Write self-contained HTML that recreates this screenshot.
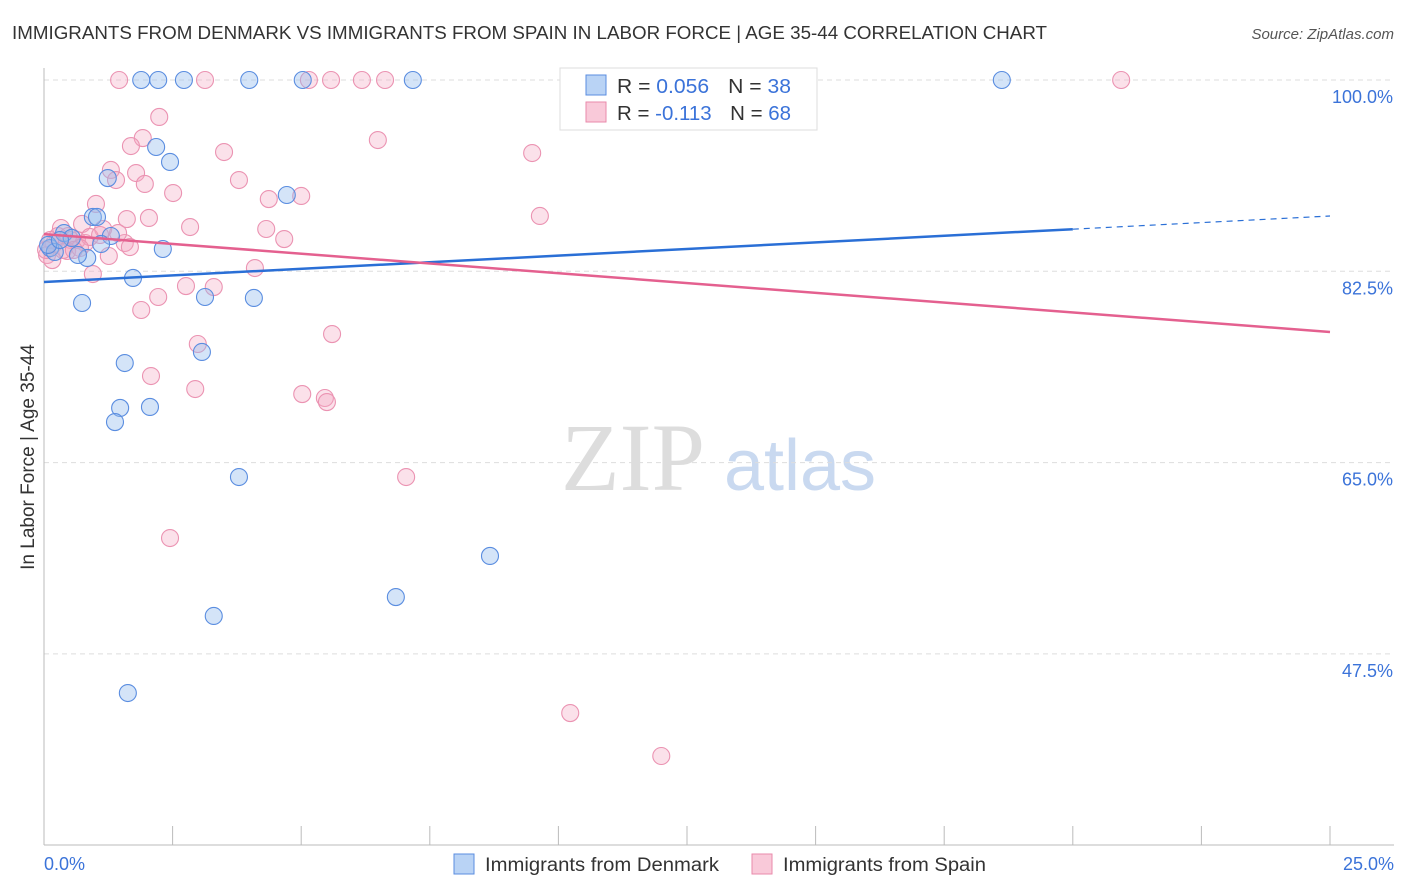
<!DOCTYPE html>
<html><head><meta charset="utf-8"><style>
body{margin:0;background:#fff;font-family:"Liberation Sans",sans-serif;}
svg{display:block}
</style></head><body>
<svg id="chart" width="1406" height="892">
<text x="12" y="39" font-size="18" fill="#333" textLength="1035" lengthAdjust="spacingAndGlyphs">IMMIGRANTS FROM DENMARK VS IMMIGRANTS FROM SPAIN IN LABOR FORCE | AGE 35-44 CORRELATION CHART</text>
<text x="1394" y="39" font-size="15" fill="#555" text-anchor="end" font-style="italic">Source: ZipAtlas.com</text>
<g>
<text x="633" y="490" font-size="96" fill="#ddd" text-anchor="middle" font-family="Liberation Serif,serif">ZIP</text>
<text x="800" y="490" font-size="72" fill="#c9d9f0" text-anchor="middle">atlas</text>
</g>
<g id="grid"></g>
<g id="axes"></g>
<g id="marks"></g>
<g>
<rect x="560" y="68" width="257" height="62" fill="#fff" stroke="#ddd"/>
<rect x="586" y="75" width="20" height="20" fill="#b9d3f5" stroke="#5a8de0"/>
<rect x="586" y="102" width="20" height="20" fill="#f9c9d9" stroke="#e98aab"/>
<text x="617" y="93" font-size="20" fill="#333" textLength="174" lengthAdjust="spacingAndGlyphs">R = <tspan fill="#3b73d9">0.056</tspan><tspan dx="18">N = </tspan><tspan fill="#3b73d9">38</tspan></text>
<text x="617" y="120" font-size="20" fill="#333" textLength="174" lengthAdjust="spacingAndGlyphs">R = <tspan fill="#3b73d9">-0.113</tspan><tspan dx="18">N = </tspan><tspan fill="#3b73d9">68</tspan></text>
</g>
<g>
<rect x="454" y="854" width="20" height="20" fill="#b9d3f5" stroke="#5a8de0"/>
<text x="485" y="871" font-size="19" fill="#333" textLength="234" lengthAdjust="spacingAndGlyphs">Immigrants from Denmark</text>
<rect x="752" y="854" width="20" height="20" fill="#f9c9d9" stroke="#e98aab"/>
<text x="783" y="871" font-size="19" fill="#333" textLength="203" lengthAdjust="spacingAndGlyphs">Immigrants from Spain</text>
</g>
<text transform="translate(34,457) rotate(-90)" font-size="19" fill="#333" text-anchor="middle">In Labor Force | Age 35-44</text>
</svg>
<script>
const yTicks=[100,82.5,65,47.5];
const yTickLabels=["100.0%","82.5%","65.0%","47.5%"];
const xEndLabels=["0.0%","25.0%"];
const denmarkX=[1.89,2.22,2.72,3.99,5.03,7.17,18.62,2.18,2.45,1.24,4.72,0.95,1.03,0.39,1.30,0.54,1.11,2.31,0.12,0.21,0.84,0.66,1.73,0.74,3.13,4.08,3.07,1.57,1.48,2.06,1.38,3.79,8.67,6.84,3.30,1.63,0.08,0.31];
const denmarkY=[100,100,100,100,100,100,100,93.87,92.5,91.03,89.48,87.47,87.47,86.0,85.73,85.55,85.0,84.54,84.63,84.27,83.72,83.99,81.89,79.6,80.15,80.06,75.12,74.11,70.0,70.09,68.71,63.68,56.46,52.7,50.97,43.92,84.91,85.36];
const spainX=[1.46,3.13,5.15,5.58,6.18,6.63,20.94,2.24,1.92,1.69,3.5,6.49,9.49,1.3,1.79,1.4,1.96,3.79,2.51,4.37,5.0,1.01,1.61,2.04,9.64,2.84,4.32,0.74,0.33,1.15,4.67,1.57,1.67,1.26,0.52,0.8,0.45,0.19,0.06,0.16,4.1,0.95,2.76,3.3,2.22,1.89,5.6,2.99,2.08,2.94,5.02,5.46,5.5,7.04,2.45,10.23,12.0,0.64,0.89,1.44,0.37,1.09,0.7,0.27,0.47,0.58,0.12,0.04];
const spainY=[100,100,100,100,100,100,100,96.62,94.69,93.96,93.41,94.51,93.32,91.77,91.49,90.85,90.49,90.85,89.66,89.11,89.39,88.66,87.28,87.38,87.56,86.55,86.37,86.83,86.46,86.37,85.45,85.09,84.72,83.9,85.36,85.09,84.36,85.0,83.99,83.53,82.8,82.25,81.15,81.06,80.15,78.96,76.76,75.85,72.92,71.73,71.27,70.91,70.54,63.68,58.1,42.09,38.16,85.36,85.64,86.0,84.45,85.82,84.63,85.73,85.73,84.45,85.36,84.45];
const denmarkTrend=[81.52,87.56];
const spainTrend=[85.9,76.95];
const X0=44,X1=1330,Y100=80,PX_PER=191.3/17.5;
const sx=v=>X0+(v/25)*(X1-X0);
const sy=v=>Y100+(100-v)*PX_PER;
const NS="http://www.w3.org/2000/svg";
function mk(parent,tag,attrs){const e=document.createElementNS(NS,tag);for(const k in attrs)e.setAttribute(k,attrs[k]);parent.appendChild(e);return e;}
const grid=document.getElementById('grid'),axes=document.getElementById('axes'),marks=document.getElementById('marks');
yTicks.forEach((t,i)=>{
 const l=mk(grid,'line',{x1:X0,x2:1394,y1:sy(t),y2:sy(t),stroke:'#ddd','stroke-dasharray':'5,4'});
 
 
 const tx=mk(axes,'text',{x:1393,y:sy(t)+23,'font-size':18,fill:'#3b73d9','text-anchor':'end'});
 tx.textContent=yTickLabels[i];
 
 
});
const ya=mk(axes,'line',{x1:X0,x2:X0,y1:68,y2:845,stroke:'#bbb'});


const xa=mk(axes,'line',{x1:X0,x2:1394,y1:845,y2:845,stroke:'#bbb'});


for(let i=1;i<=10;i++){
 const t=mk(axes,'line',{x1:sx(i*2.5),x2:sx(i*2.5),y1:826,y2:845,stroke:'#bbb'});
 
 
}
[[0,'start',44],[25,'end',1394]].forEach((d,i)=>{
 const tx=mk(axes,'text',{x:d[2],y:870,'font-size':18,fill:'#3b73d9','text-anchor':d[1]});
 tx.textContent=xEndLabels[i];
 
 
});
function pts(xs,ys,fill,stroke,name){
 xs.forEach((x,i)=>{
  const c=mk(marks,'circle',{cx:sx(x),cy:sy(ys[i]),r:8.5,fill:fill,stroke:stroke,'stroke-width':1.1});
  
  
 });
}
pts(spainX,spainY,'rgba(244,170,196,0.35)','#eb93b2','spain-point');
pts(denmarkX,denmarkY,'rgba(147,187,238,0.4)','#5a8de0','denmark-point');
const solidEnd=20;
const bl=mk(marks,'line',{x1:sx(0),y1:sy(denmarkTrend[0]),x2:sx(solidEnd),y2:sy(denmarkTrend[0]+(denmarkTrend[1]-denmarkTrend[0])*solidEnd/25),stroke:'#2a6fd6','stroke-width':2.5});


const bd=mk(marks,'line',{x1:sx(solidEnd),y1:sy(denmarkTrend[0]+(denmarkTrend[1]-denmarkTrend[0])*solidEnd/25),x2:sx(25),y2:sy(denmarkTrend[1]),stroke:'#2a6fd6','stroke-width':1.2,'stroke-dasharray':'6,5'});


const pl=mk(marks,'line',{x1:sx(0),y1:sy(spainTrend[0]),x2:sx(25),y2:sy(spainTrend[1]),stroke:'#e4608f','stroke-width':2.5});


</script>
</body></html>
